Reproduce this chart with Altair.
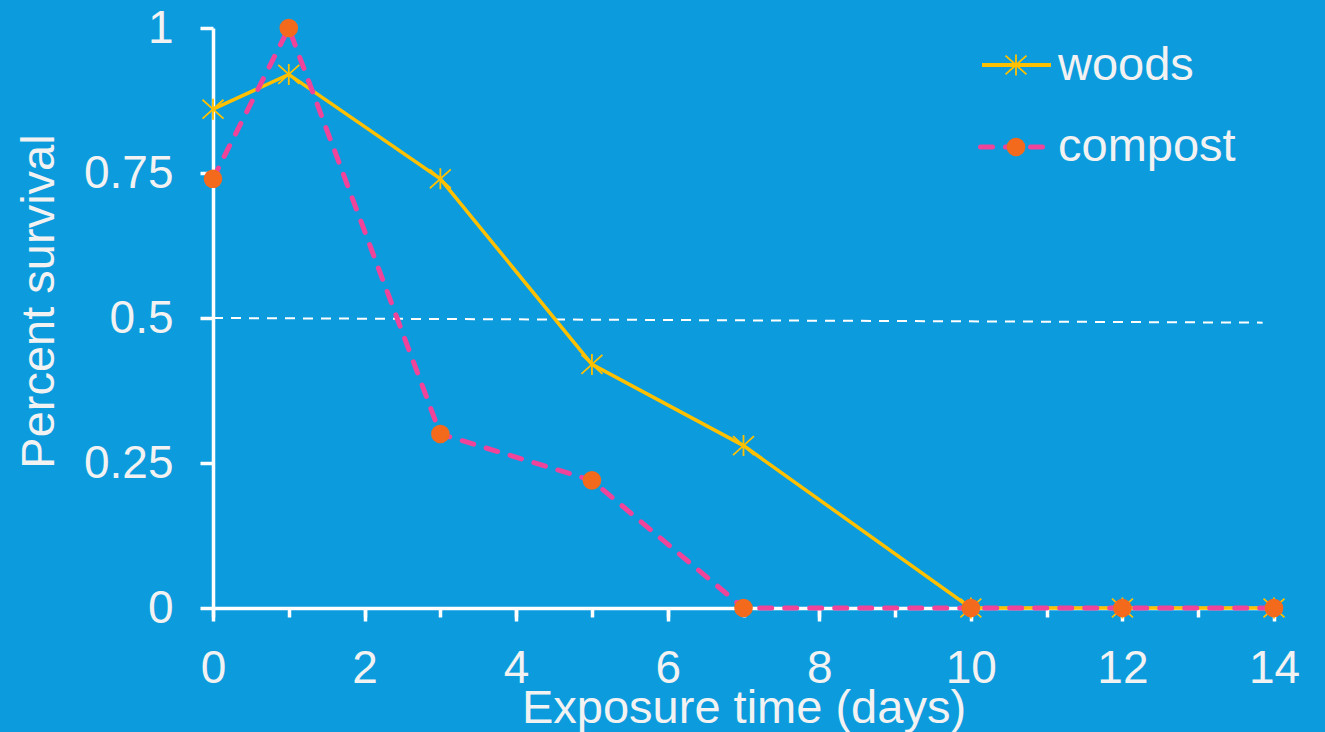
import altair as alt
import pandas as pd

# ---- data ----
days = [0, 1, 3, 5, 7, 10, 12, 14]
woods = [0.86, 0.92, 0.74, 0.42, 0.28, 0.0, 0.0, 0.0]
compost = [0.74, 1.0, 0.30, 0.22, 0.0, 0.0, 0.0, 0.0]
ref_days = [0, 13.85]
ref_survival = [0.5, 0.492]
x_major_ticks = [0, 2, 4, 6, 8, 10, 12, 14]
x_minor_ticks = list(range(0, 15))
y_ticks = [0, 0.25, 0.5, 0.75, 1]
series_names = ["woods", "compost"]

BG = "#0C9BDD"
TEXT = "#F2F2F2"
GOLD = "#FFC000"
PINK = "#F0449A"
ORANGE = "#F46A1C"
FONT = "Liberation Sans"
ASTERISK = "M0,-1L0,1M-1,-0.9L1,0.9M-1,0.9L1,-0.9"

df_w = pd.DataFrame({"day": days, "survival": woods, "series": series_names[0]})
df_c = pd.DataFrame({"day": days, "survival": compost, "series": series_names[1]})
df_ref = pd.DataFrame({"day": ref_days, "survival": ref_survival})
df_leg_w = pd.DataFrame({"series": [series_names[0]]})
df_leg_c = pd.DataFrame({"series": [series_names[1]]})

xscale = alt.Scale(domain=[0, 14], nice=False, zero=False)
yscale = alt.Scale(domain=[0, 1], nice=False)

x_axis = alt.Axis(
    values=x_major_ticks, title="Exposure time (days)", grid=False, orient="bottom",
    domainColor="white", domainWidth=3.5, tickColor="white", tickWidth=3.5, tickSize=13,
    labelColor=TEXT, labelFontSize=46, labelFont=FONT, labelBaseline="alphabetic",
    labelPadding=61, labelFlush=False, labelOverlap=False,
    titleColor=TEXT, titleFont=FONT, titleFontSize=47, titleFontWeight="normal",
    titleBaseline="alphabetic", titleY=114,
)
x_minor_axis = alt.Axis(
    values=x_minor_ticks, title="", grid=False, orient="bottom", labels=False,
    domain=False, tickColor="white", tickWidth=3.5, tickSize=9,
)
y_axis = alt.Axis(
    values=y_ticks, labelExpr="format(datum.value, '.2~f')", title="Percent survival",
    grid=False,
    domainColor="white", domainWidth=3.5, tickColor="white", tickWidth=3.5, tickSize=13,
    labelColor=TEXT, labelFontSize=46, labelFont=FONT, labelPadding=27,
    labelFlush=False, labelOverlap=False,
    titleColor=TEXT, titleFont=FONT, titleFontSize=47, titleFontWeight="normal",
    titleBaseline="alphabetic", titleX=-160, titleY=273, titleAngle=270,
)

X = alt.X("day:Q", scale=xscale, axis=x_axis)
Y = alt.Y("survival:Q", scale=yscale, axis=y_axis)

ref_line = alt.Chart(df_ref).mark_line(
    color="white", strokeWidth=2, strokeDash=[10, 8]
).encode(
    x=alt.X("day:Q", scale=xscale, axis=x_minor_axis),
    y=alt.Y("survival:Q", scale=yscale, axis=y_axis),
)

woods_line = alt.Chart(df_w).mark_line(color=GOLD, strokeWidth=3.5).encode(x=X, y=Y)
woods_pts = alt.Chart(df_w).mark_point(
    shape=ASTERISK, size=441, stroke=GOLD, strokeWidth=1.8, filled=False, opacity=1
).encode(x=X, y=Y)
compost_line = alt.Chart(df_c).mark_line(
    color=PINK, strokeWidth=5, strokeDash=[12, 13], strokeCap="round"
).encode(x=X, y=Y)
compost_pts = alt.Chart(df_c).mark_circle(
    size=346, color=ORANGE, opacity=1
).encode(x=X, y=Y)

# legend (manual)
leg_w_line = alt.Chart(df_leg_w).mark_rule(color=GOLD, strokeWidth=4).encode(
    x=alt.value(769), x2=alt.value(838), y=alt.value(37)
)
leg_w_pt = alt.Chart(df_leg_w).mark_point(
    shape=ASTERISK, size=441, stroke=GOLD, strokeWidth=1.8, filled=False, opacity=1
).encode(x=alt.value(803), y=alt.value(37))
leg_w_txt = alt.Chart(df_leg_w).mark_text(
    align="left", baseline="alphabetic", font=FONT, fontSize=47, color=TEXT
).encode(x=alt.value(845), y=alt.value(52), text="series:N")

leg_c_line = alt.Chart(df_leg_c).mark_rule(
    color=PINK, strokeWidth=5, strokeDash=[12, 13], strokeCap="round"
).encode(x=alt.value(767.5), x2=alt.value(831.5), y=alt.value(119))
leg_c_pt = alt.Chart(df_leg_c).mark_circle(size=346, color=ORANGE, opacity=1).encode(
    x=alt.value(803), y=alt.value(119)
)
leg_c_txt = alt.Chart(df_leg_c).mark_text(
    align="left", baseline="alphabetic", font=FONT, fontSize=47, color=TEXT
).encode(x=alt.value(845), y=alt.value(133), text="series:N")

main = alt.layer(
    woods_line, woods_pts, compost_line, compost_pts,
    leg_w_line, leg_w_pt, leg_w_txt, leg_c_line, leg_c_pt, leg_c_txt,
)

chart = alt.layer(ref_line, main).resolve_axis(x="independent").properties(
    width=1061,
    height=580,
    background=BG,
    padding={"left": 213, "top": 28, "right": 51, "bottom": 124},
    autosize=alt.AutoSizeParams(type="none"),
).configure_view(stroke=None)

chart.save("out.html", embed_options={"renderer": "svg", "actions": False})
